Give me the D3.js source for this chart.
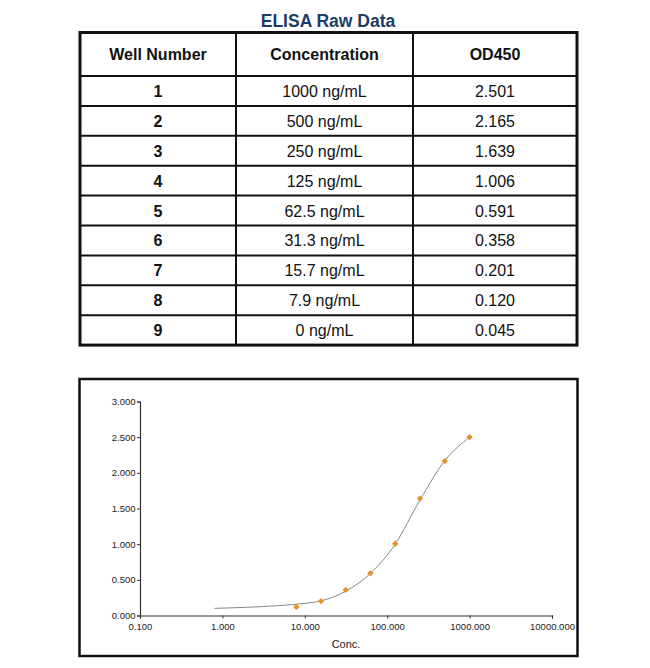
<!DOCTYPE html>
<html><head><meta charset="utf-8">
<script src="https://cdn.jsdelivr.net/npm/d3@7"></script>
<style>body{margin:0;background:#fff;font-family:"Liberation Sans",Arial,Helvetica,sans-serif}</style>
</head><body>
<svg id="c" width="650" height="668"></svg>
<script>
const headers = ["Well Number", "Concentration", "OD450"];
const wells = [1, 2, 3, 4, 5, 6, 7, 8, 9];
const concLabels = ["1000 ng/mL","500 ng/mL","250 ng/mL","125 ng/mL","62.5 ng/mL","31.3 ng/mL","15.7 ng/mL","7.9 ng/mL","0 ng/mL"];
const concValues = [1000, 500, 250, 125, 62.5, 31.3, 15.7, 7.9, 0];
const odLabels = ["2.501","2.165","1.639","1.006","0.591","0.358","0.201","0.120","0.045"];
const odValues = [2.501, 2.165, 1.639, 1.006, 0.591, 0.358, 0.201, 0.120, 0.045];
// fitted curve
const fitConc = [0.8, 2, 5, 10, 15.7, 31.3, 62.5, 125, 250, 500, 1000];
const fitOD = [0.100, 0.115, 0.140, 0.170, 0.205, 0.340, 0.590, 1.000, 1.620, 2.170, 2.500];
const xTicks = [0.1, 1, 10, 100, 1000, 10000];
const yTicks = [0, 0.5, 1, 1.5, 2, 2.5, 3];

const svg = d3.select("#c");
const font = '"Liberation Sans",Arial,Helvetica,sans-serif';

// Title
svg.append("text").attr("x", 328).attr("y", 27).attr("text-anchor", "middle")
  .attr("font-family", font).attr("font-weight", "bold").attr("font-size", 17.5)
  .attr("fill", "#1d3d66").text("ELISA Raw Data");

// Table
const colEdges = [80, 236, 413, 577];
const tTop = 32.5, headH = 43.5, rowH = 29.9;
const nRows = wells.length;
const tBottom = tTop + headH + nRows * rowH;
const tg = svg.append("g");
const rowYs = d3.range(nRows).map(i => tTop + headH + i * rowH);
tg.selectAll("line.h").data(rowYs).join("line")
  .attr("x1", colEdges[0]).attr("x2", colEdges[3])
  .attr("y1", d => d).attr("y2", d => d)
  .attr("stroke", "#111").attr("stroke-width", 2);
tg.selectAll("line.v").data(colEdges.slice(1, 3)).join("line")
  .attr("x1", d => d).attr("x2", d => d)
  .attr("y1", tTop).attr("y2", tBottom)
  .attr("stroke", "#111").attr("stroke-width", 2);
tg.append("rect").attr("x", colEdges[0]).attr("y", tTop)
  .attr("width", colEdges[3] - colEdges[0]).attr("height", tBottom - tTop)
  .attr("fill", "none").attr("stroke", "#111").attr("stroke-width", 3);
const colCenters = [0, 1, 2].map(i => (colEdges[i] + colEdges[i + 1]) / 2);
headers.forEach((h, i) => {
  tg.append("text").attr("x", colCenters[i]).attr("y", tTop + headH / 2 + 6)
    .attr("text-anchor", "middle").attr("font-family", font)
    .attr("font-weight", "bold").attr("font-size", 16).attr("fill", "#111").text(h);
});
wells.forEach((w, i) => {
  const cy = tTop + headH + i * rowH + rowH / 2 + 6;
  const cells = [String(w), concLabels[i], odLabels[i]];
  cells.forEach((t, j) => {
    tg.append("text").attr("x", colCenters[j]).attr("y", cy)
      .attr("text-anchor", "middle").attr("font-family", font)
      .attr("font-weight", j === 0 ? "bold" : "normal")
      .attr("font-size", 16).attr("fill", "#111").text(t);
  });
});

// Chart box
svg.append("rect").attr("x", 79.5).attr("y", 379).attr("width", 498).attr("height", 277)
  .attr("fill", "none").attr("stroke", "#111").attr("stroke-width", 2.5);

const x = d3.scaleLog().domain([0.1, 10000]).range([140, 552]);
const y = d3.scaleLinear().domain([0, 3]).range([615.5, 401.5]);

const xAxis = svg.append("g").attr("transform", "translate(0,615.5)")
  .call(d3.axisBottom(x).tickValues(xTicks).tickSize(3).tickPadding(5)
    .tickFormat(d3.format(".3f")));
const yAxis = svg.append("g").attr("transform", "translate(140,0)")
  .call(d3.axisLeft(y).tickValues(yTicks).tickSize(3).tickPadding(1.5)
    .tickFormat(d3.format(".3f")));
[xAxis, yAxis].forEach(a => {
  a.select(".domain").attr("stroke", "#333").attr("stroke-width", 1.2);
  a.selectAll(".tick line").attr("stroke", "#333");
  a.selectAll("text").attr("font-family", font).attr("font-size", 9.5).attr("fill", "#222");
});

svg.append("text").attr("x", 346).attr("y", 648).attr("text-anchor", "middle")
  .attr("font-family", font).attr("font-size", 11).attr("fill", "#222").text("Conc.");

// fit curve
const fitData = fitConc.map((c, i) => [c, fitOD[i]]);
svg.append("path").datum(fitData)
  .attr("d", d3.line().x(d => x(d[0])).y(d => y(d[1])).curve(d3.curveMonotoneX))
  .attr("fill", "none").attr("stroke", "#888").attr("stroke-width", 1);

// points (0 ng/mL not shown on log axis)
const pts = concValues.map((c, i) => [c, odValues[i]]).filter(d => d[0] > 0);
svg.selectAll("path.pt").data(pts).join("path")
  .attr("transform", d => `translate(${x(d[0])},${y(d[1])}) rotate(45)`)
  .attr("d", d3.symbol().type(d3.symbolSquare).size(20))
  .attr("fill", "#e8912c");
</script>
</body></html>
